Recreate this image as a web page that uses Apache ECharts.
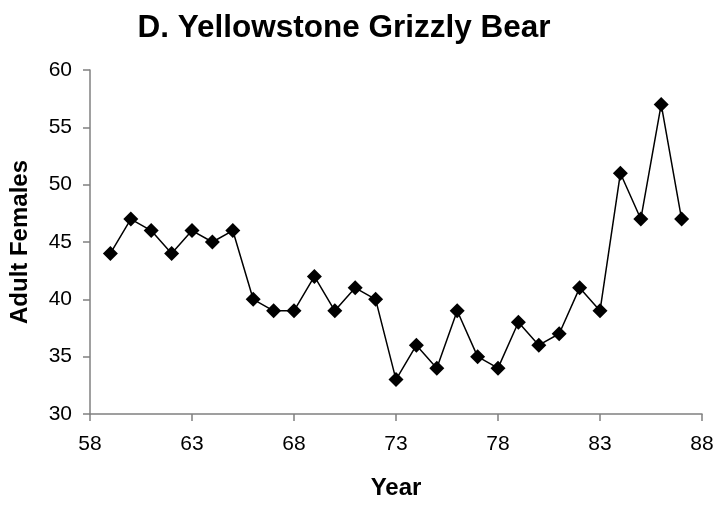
<!DOCTYPE html>
<html>
<head>
    <meta charset="utf-8">
    <title>D. Yellowstone Grizzly Bear</title>
    <script src="https://cdn.jsdelivr.net/npm/echarts@6/dist/echarts.min.js"></script>
</head>
<body style="margin:0;background:#fff;">
<div id="main" style="width:719px;height:508px;"></div>
<script>
    // data
    var years = [59, 60, 61, 62, 63, 64, 65, 66, 67, 68, 69, 70, 71, 72, 73,
                 74, 75, 76, 77, 78, 79, 80, 81, 82, 83, 84, 85, 86, 87];
    var females = [44, 47, 46, 44, 46, 45, 46, 40, 39, 39, 42, 39, 41, 40, 33,
                   36, 34, 39, 35, 34, 38, 36, 37, 41, 39, 51, 47, 57, 47];

    var points = [];
    for (var i = 0; i < years.length; i++) {
        points.push([years[i], females[i]]);
    }

    var font = 'Liberation Sans, Arial, sans-serif';
    var axisLine = { show: true, onZero: false, lineStyle: { color: '#808080', width: 1.5 } };
    var axisTick = { show: true, length: 7, lineStyle: { color: '#808080', width: 1.5 } };

    var myChart = echarts.init(document.getElementById('main'));
    var option = {
        animation: false,
        title: {
            text: 'D. Yellowstone Grizzly Bear',
            left: 339,
            textAlign: 'center',
            top: 7,
            textStyle: { fontFamily: font, fontSize: 31.5, fontWeight: 'bold', color: '#000' }
        },
        grid: { left: 86, right: 17, top: 70, bottom: 94 },
        xAxis: {
            type: 'value',
            min: 58, max: 88, interval: 5,
            name: 'Year',
            nameLocation: 'middle',
            nameGap: 62,
            nameTextStyle: { fontFamily: font, fontSize: 24, fontWeight: 'bold', color: '#000' },
            axisLine: axisLine,
            axisTick: axisTick,
            axisLabel: { fontFamily: font, fontSize: 21, color: '#000', margin: 20 },
            splitLine: { show: false }
        },
        yAxis: {
            type: 'value',
            min: 30, max: 60, interval: 5,
            name: 'Adult Females',
            nameLocation: 'middle',
            nameGap: 58,
            nameTextStyle: { fontFamily: font, fontSize: 24, fontWeight: 'bold', color: '#000' },
            axisLine: axisLine,
            axisTick: axisTick,
            axisLabel: { fontFamily: font, fontSize: 21, color: '#000', margin: 18 },
            splitLine: { show: false }
        },
        series: [{
            type: 'line',
            data: points,
            symbol: 'diamond',
            symbolSize: [15, 15],
            itemStyle: { color: '#000' },
            lineStyle: { color: '#000', width: 1.5 }
        }]
    };
    myChart.setOption(option);
</script>
</body>
</html>
